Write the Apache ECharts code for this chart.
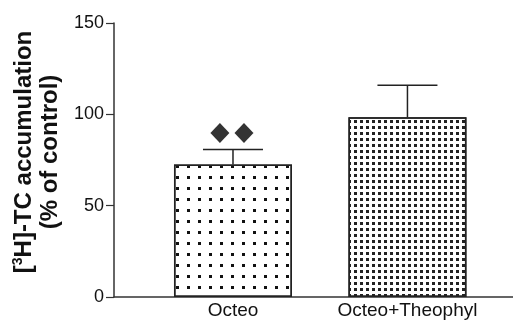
<!DOCTYPE html>
<html><head><meta charset="utf-8">
<script src="https://cdn.jsdelivr.net/npm/echarts@6/dist/echarts.min.js"></script>
<style>html,body{margin:0;padding:0;background:#fff}#c{width:513px;height:320px}</style>
</head><body><div id="c"></div>
<script>
const categories = ['Octeo', 'Octeo+Theophyl'];
const categoryPos = [1, 2];
const meanValues = [72.5, 98.4];
const upperError = [80.8, 115.9];
const diamondX = [0.925, 1.063];
const diamondY = [89.8, 89.8];
const yTicks = [0, 50, 100, 150];

const chart = echarts.init(document.getElementById('c'));
const barData = categoryPos.map((x, i) => ({
  value: [x, meanValues[i]],
  itemStyle: {
    color: '#fff',
    borderColor: '#222',
    borderWidth: 1.5,
    decal: i === 0
      ? { symbol: 'rect', symbolSize: 1, color: '#111', dashArrayX: [2.5, 8], dashArrayY: [2.5, 8] }
      : { symbol: 'rect', symbolSize: 1, color: '#222', dashArrayX: [3, 2.3], dashArrayY: [3, 2.3] }
  }
}));
const errData = categoryPos.map((x, i) => [x, meanValues[i], upperError[i]]);

chart.setOption({
  animation: false,
  grid: { left: 114, right: 0, top: 23, bottom: 23 },
  xAxis: {
    type: 'value', min: 0.318, max: 2.605,
    splitLine: { show: false },
    axisTick: { show: false },
    axisLine: { show: true, lineStyle: { color: '#333', width: 1.5 } },
    axisLabel: {
      customValues: categoryPos,
      formatter: v => categories[categoryPos.indexOf(v)] || '',
      color: '#111', fontSize: 19, fontFamily: 'Liberation Sans, Arial', margin: 4
    }
  },
  yAxis: {
    type: 'value', min: yTicks[0], max: yTicks[yTicks.length - 1], interval: 50,
    splitLine: { show: false },
    axisLine: { show: true, lineStyle: { color: '#333', width: 1.5 } },
    axisTick: { show: true, length: 8, lineStyle: { color: '#333', width: 1.2 } },
    axisLabel: { color: '#111', fontSize: 18, fontFamily: 'Liberation Sans, Arial', margin: 10 },
    name: '{a|[}{s|3}{a|H]-TC accumulation}\n{a|(% of control)}',
    nameLocation: 'middle', nameRotate: 90, nameGap: 47,
    nameTextStyle: {
      lineHeight: 26,
      padding: [0, 0, 0, 16],
      rich: {
        a: { fontSize: 24, fontWeight: 'bold', fontFamily: 'Liberation Sans, Arial', color: '#111', lineHeight: 26 },
        s: { fontSize: 14, fontWeight: 'bold', fontFamily: 'Liberation Sans, Arial', color: '#111', verticalAlign: 'top', lineHeight: 26, padding: [0, 0, 10, 0] }
      }
    }
  },
  series: [
    { type: 'bar', data: barData, barWidth: 118 },
    {
      type: 'custom', data: errData, z: 1,
      renderItem: (params, api) => {
        const base = api.coord([api.value(0), api.value(1)]);
        const top = api.coord([api.value(0), api.value(2)]);
        const hw = 30;
        return {
          type: 'group', children: [
            { type: 'line', shape: { x1: base[0], y1: base[1], x2: top[0], y2: top[1] }, style: { stroke: '#222', lineWidth: 1.5 } },
            { type: 'line', shape: { x1: top[0] - hw, y1: top[1], x2: top[0] + hw, y2: top[1] }, style: { stroke: '#222', lineWidth: 1.5 } }
          ]
        };
      }
    },
    {
      type: 'scatter', symbol: 'diamond', symbolSize: [19, 20],
      itemStyle: { color: '#000' },
      data: diamondX.map((x, i) => [x, diamondY[i]])
    }
  ]
});
</script></body></html>
